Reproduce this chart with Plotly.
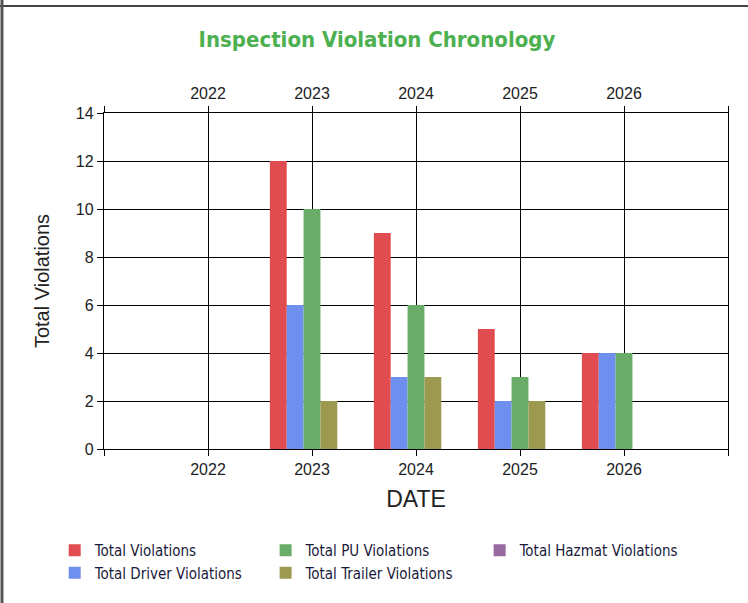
import plotly.graph_objects as go

years = [2022, 2023, 2024, 2025, 2026]
total_violations = [0, 12, 9, 5, 4]
driver_violations = [0, 6, 3, 2, 4]
pu_violations = [0, 10, 6, 3, 4]
trailer_violations = [0, 2, 3, 2, 0]
hazmat_violations = [0, 0, 0, 0, 0]

series = [
    ("Total Violations", total_violations, "#E04C50", "legend"),
    ("Total Driver Violations", driver_violations, "#6F8FEF", "legend"),
    ("Total PU Violations", pu_violations, "#6AAD6A", "legend2"),
    ("Total Trailer Violations", trailer_violations, "#9C9A50", "legend2"),
    ("Total Hazmat Violations", hazmat_violations, "#9868A0", "legend3"),
]

fig = go.Figure()
for name, vals, color, leg in series:
    fig.add_trace(go.Bar(
        x=years, y=vals, name=name, legend=leg,
        marker=dict(color=color, line=dict(width=0)),
    ))

tickvals = [2021] + years + [2027]
ticktext = [""] + [str(y) for y in years] + [""]
axis_font = dict(family="Liberation Sans, Arial, sans-serif", size=16, color="#222")
leg_font = dict(family="DejaVu Sans Condensed, DejaVu Sans", size=15, color="#1a1a3a")
leg_y = -0.253

def leg(x):
    return dict(orientation="v", x=x, xanchor="left", y=leg_y, yanchor="top",
                font=leg_font, tracegroupgap=0, bgcolor="rgba(0,0,0,0)")

fig.update_layout(
    width=748, height=603,
    margin=dict(l=104, r=20, t=113, b=154, autoexpand=False),
    paper_bgcolor="white", plot_bgcolor="white",
    barmode="group", bargap=0.19, bargroupgap=0,
    title=dict(text="<b>Inspection Violation Chronology</b>", x=0.504, xanchor="center",
               y=0.934, yanchor="middle",
               font=dict(family="DejaVu Sans Condensed, DejaVu Sans", size=22, color="#4CB050")),
    xaxis=dict(range=[2021, 2027], tickvals=tickvals, ticktext=ticktext,
               showgrid=True, gridcolor="black", gridwidth=1.4,
               showline=True, linecolor="black", linewidth=1.4, mirror=False,
               ticks="outside", ticklen=6, tickcolor="black", tickfont=axis_font,
               zeroline=False,
               title=dict(text="DATE", font=dict(family="Liberation Sans, Arial, sans-serif", size=23, color="#222"),
                          standoff=13)),
    xaxis2=dict(range=[2021, 2027], tickvals=tickvals, ticktext=ticktext,
                overlaying="x", side="top", anchor="y", matches="x",
                showgrid=False, showline=True, linecolor="black", linewidth=1.4,
                ticks="outside", ticklen=6, tickcolor="black", tickfont=axis_font),
    yaxis=dict(range=[0, 14], dtick=2, showgrid=True, gridcolor="black", gridwidth=1.4,
               showline=True, linecolor="black", linewidth=1.4, mirror=True,
               ticks="outside", ticklen=6, tickcolor="black", tickfont=axis_font,
               zeroline=False,
               title=dict(text="Total Violations", font=dict(family="Liberation Sans, Arial, sans-serif", size=20, color="#222"),
                          standoff=20)),
    legend=leg(-0.079),
    legend2=leg(0.259),
    legend3=leg(0.602),
    shapes=[
        dict(type="line", xref="paper", yref="paper", x0=-0.2, x1=1.1, y0=1.3185, y1=1.3185,
             line=dict(color="#444", width=2)),
        dict(type="line", xref="paper", yref="paper", x0=-0.1635, x1=-0.1635, y0=1.35, y1=-0.5,
             line=dict(color="#555", width=3)),
    ],
)

# invisible anchor so top axis renders
fig.add_trace(go.Scatter(x=[2021, 2027], y=[0, 0], xaxis="x2", mode="markers",
                         marker=dict(opacity=0), showlegend=False, hoverinfo="skip"))

fig.write_html("out.html", config={"displayModeBar": False},
               post_script="document.body.style.margin='0';")
